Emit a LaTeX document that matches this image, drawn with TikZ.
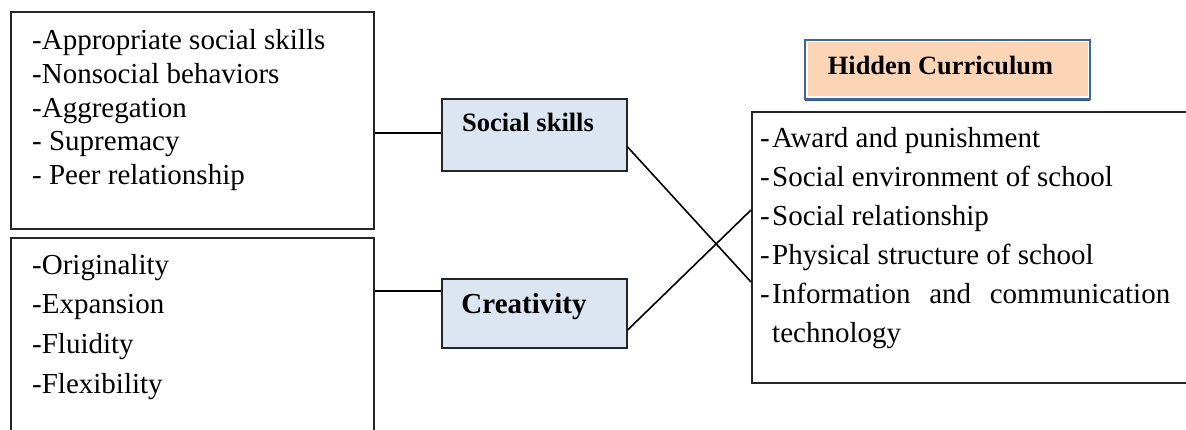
\documentclass[tikz,border=0pt]{standalone}
\usepackage{fontspec}
\setmainfont{Liberation Serif}
\usetikzlibrary{calc}
\definecolor{ssfill}{HTML}{DCE6F2}
\definecolor{hcfill}{HTML}{FBD5B5}
\definecolor{hcborder}{HTML}{41659A}
\definecolor{boxline}{HTML}{262626}
\begin{document}
\begin{tikzpicture}[x=1pt,y=-1pt,
  box/.style={draw=boxline, line width=1.6pt, rectangle, inner sep=0pt, anchor=north west},
  item/.style={anchor=base west, inner sep=0pt, font=\fontsize{29}{34}\selectfont},
  title/.style={anchor=base, inner sep=0pt, font=\bfseries\fontsize{#1}{30}\selectfont},
  link/.style={draw=black, line width=1.6pt}]
\clip (0,0) rectangle (1186,430);
% boxes
\node[box, minimum width=363pt, minimum height=217pt] (b1) at (10,11) {};
\node[box, minimum width=363pt, minimum height=230pt] (b2) at (10,237) {};
\node[box, fill=ssfill, minimum width=185pt, minimum height=72pt] (ss) at (441,98) {};
\node[box, fill=ssfill, minimum width=185pt, minimum height=69pt] (cr) at (441,278) {};
\node[box, minimum width=480pt, minimum height=271pt] (rb) at (751,111) {};
\node[box, draw=white, line width=1pt, fill=hcfill, minimum width=281pt, minimum height=55pt] (hc) at (806.5,41.5) {};
\draw[hcborder, line width=2pt] ($(hc.north west)+(-1.5,-1.5)$) rectangle ($(hc.south east)+(1.5,1.5)$);
\draw[hcborder!80!black, line width=1.5pt] ($(hc.south west)+(-1.5,3)$) -- ($(hc.south east)+(1.5,3)$);
% titles
\node[title=26.5] (tss) at (528,132) {Social skills};
\node[title=29] (tcr) at (524,313) {Creativity};
\node[title=26.4] (thc) at (940.5,75) {Hidden Curriculum};
% left box 1
\node[item] (a1) at (32,50) {-Appropriate social skills};
\node[item] (a2) at (32,84) {-Nonsocial behaviors};
\node[item] (a3) at (32,118) {-Aggregation};
\node[item] (a4) at (32,151) {- Supremacy};
\node[item] (a5) at (32,185) {- Peer relationship};
% left box 2
\node[item] (o1) at (32,275) {-Originality};
\node[item] (o2) at (32,314) {-Expansion};
\node[item] (o3) at (32,353) {-Fluidity};
\node[item] (o4) at (32,393) {-Flexibility};
% right box
\node[item] (d1) at (760,148) {-};
\node[item] (r1) at (772,148) {Award and punishment};
\node[item] (d2) at (760,187) {-};
\node[item] (r2) at (772,187) {Social environment of school};
\node[item] (d3) at (760,226) {-};
\node[item] (r3) at (772,226) {Social relationship};
\node[item] (d4) at (760,265) {-};
\node[item] (r4) at (772,265) {Physical structure of school};
\node[item] (d5) at (760,303.5) {-};
\node[item] (r5) at (772,303.5) {\hbox to 398pt{Information\hfil and\hfil communication}};
\node[item] (r6) at (772,342) {technology};
% connectors
\coordinate (c1) at ($(b1.north east)+(0,122)$);
\draw[link] (c1) -- (c1 -| ss.west);
\coordinate (c2) at ($(cr.north west)+(0,13)$);
\draw[link] (c2) -- (c2 -| b2.east);
\coordinate (s1) at ($(ss.north east)+(0,49)$);
\coordinate (e1) at ($(rb.north west)+(0,171)$);
\draw[link] (s1) -- (e1);
\coordinate (s2) at ($(cr.north east)+(0,52)$);
\coordinate (e2) at ($(rb.north west)+(0,99)$);
\draw[link] (s2) -- (e2);
\end{tikzpicture}
\end{document}
